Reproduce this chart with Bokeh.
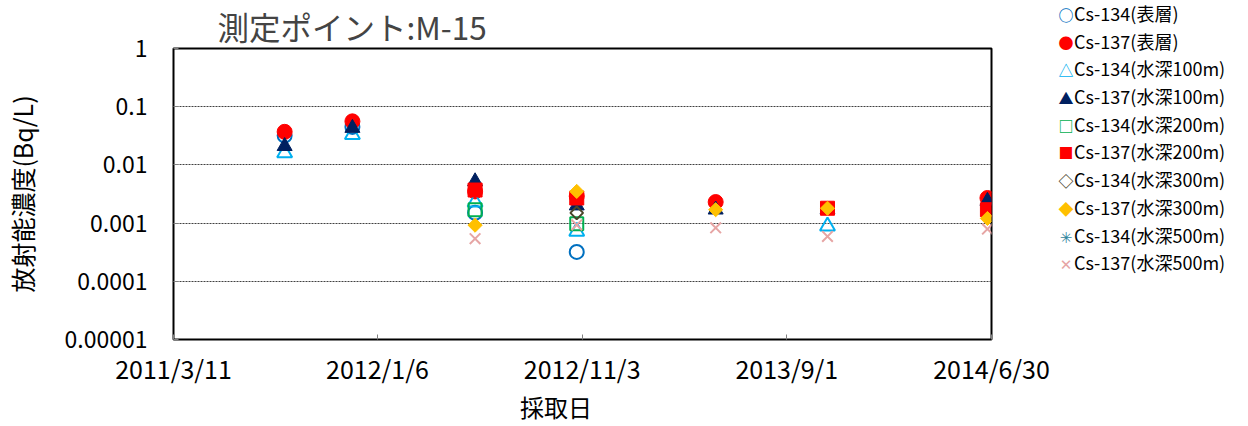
import math
import pandas as pd
from bokeh.plotting import figure
from bokeh.layouts import row, column
from bokeh.models import Range1d, FixedTicker, CustomJSTickFormatter, ColumnDataSource, Div
from bokeh.embed import file_html
from bokeh.resources import INLINE

nan = float("nan")

# sampling dates
dates = ["2011-08-22", "2011-11-30", "2012-05-29", "2012-10-26",
         "2013-05-19", "2013-10-31", "2014-06-24"]

# series values (Bq/L)
cs134_surface = [0.032, 0.045, 0.0015, 0.00032, nan, nan, nan]
cs137_surface = [0.037, 0.056, 0.0035, 0.0029, 0.0023, nan, 0.0027]
cs134_100m = [0.016, 0.033, 0.0023, 0.00072, nan, 0.00089, nan]
cs137_100m = [0.021, 0.043, 0.0052, 0.0020, 0.0017, 0.0017, 0.0024]
cs134_200m = [nan, nan, 0.0017, 0.00097, nan, nan, nan]
cs137_200m = [nan, nan, 0.0037, 0.0027, nan, 0.0018, 0.0017]
cs134_300m = [nan, nan, nan, 0.0015, nan, nan, nan]
cs137_300m = [nan, nan, 0.00092, 0.0035, 0.0017, 0.0018, 0.0012]
cs134_500m = [nan, nan, nan, nan, nan, nan, nan]
cs137_500m = [nan, nan, 0.00054, 0.00093, 0.00083, 0.00059, 0.00079]

x_ticks = ["2011-03-11", "2012-01-06", "2012-11-03", "2013-09-01", "2014-06-30"]
y_ticks = [0.00001, 0.0001, 0.001, 0.01, 0.1, 1]

title = "測定ポイント:M-15"
y_title = "放射能濃度(Bq/L)"
x_title = "採取日"

FONT = "Noto Sans CJK JP"

def ms(s):
    return pd.Timestamp(s).value / 1e6

x = [pd.Timestamp(d) for d in dates]

p = figure(width=1066, height=409, x_axis_type="datetime", y_axis_type="log",
           x_range=Range1d(ms(x_ticks[0]), ms(x_ticks[-1])),
           y_range=Range1d(y_ticks[0], y_ticks[-1]),
           output_backend="svg", toolbar_location=None,
           min_border_left=169, min_border_right=75, min_border_top=38, min_border_bottom=70)

p.title.text = title
p.title.text_font = FONT
p.title.text_font_size = "31.5px"
p.title.text_font_style = "normal"
p.title.offset = 44
p.title.standoff = 0

p.outline_line_color = "black"
p.outline_line_width = 2
p.background_fill_color = "white"
p.border_fill_color = "white"

p.xgrid.grid_line_color = None
p.ygrid.grid_line_color = "#404040"
p.ygrid.grid_line_dash = "2 1"
p.ygrid.grid_line_width = 1
p.ygrid.ticker = FixedTicker(ticks=y_ticks[1:-1])

p.xaxis.ticker = FixedTicker(ticks=[ms(t) for t in x_ticks])
p.xaxis.formatter = CustomJSTickFormatter(code="""
const d = new Date(tick);
return d.getUTCFullYear() + '/' + (d.getUTCMonth()+1) + '/' + d.getUTCDate();
""")
p.yaxis.ticker = FixedTicker(ticks=y_ticks)
p.yaxis.formatter = CustomJSTickFormatter(code="""
const n = Math.max(0, -Math.round(Math.log10(tick)));
return tick.toFixed(n);
""")

for ax in (p.xaxis[0], p.yaxis[0]):
    ax.axis_line_color = None
    ax.major_tick_in = 5
    ax.major_tick_out = 0
    ax.major_tick_line_color = "#808080"
    ax.minor_tick_line_color = None
    ax.major_label_text_font = FONT
    ax.major_label_text_color = "black"
    ax.axis_label_text_font = FONT
    ax.axis_label_text_font_style = "normal"
    ax.axis_label_text_color = "black"

p.xaxis.major_label_text_font_size = "25px"
p.xaxis.major_label_standoff = 10

p.yaxis.major_label_text_font_size = "23px"
p.yaxis.axis_label = y_title
p.yaxis.axis_label_text_font_size = "25px"
p.yaxis.major_label_standoff = 26
p.yaxis.axis_label_standoff = 22

src = ColumnDataSource(dict(
    x=x,
    s134=cs134_surface, s137=cs137_surface,
    a134=cs134_100m, a137=cs137_100m,
    b134=cs134_200m, b137=cs137_200m,
    c134=cs134_300m, c137=cs137_300m,
    d134=cs134_500m, d137=cs137_500m,
))

# (column, legend label, legend symbol, colour, marker style)
specs = [
    ("s134", "Cs-134(表層)", "○", "#0070C0", dict(marker="circle", size=14, line_width=2, fill_color=None)),
    ("s137", "Cs-137(表層)", "●", "#FF0000", dict(marker="circle", size=15, fill_color="#FF0000")),
    ("a134", "Cs-134(水深100m)", "△", "#00B0F0", dict(marker="triangle", size=15, line_width=2, fill_color=None)),
    ("a137", "Cs-137(水深100m)", "▲", "#002060", dict(marker="triangle", size=15, fill_color="#002060")),
    ("b134", "Cs-134(水深200m)", "□", "#00B050", dict(marker="square", size=13, line_width=2, fill_color=None)),
    ("b137", "Cs-137(水深200m)", "■", "#FF0000", dict(marker="square", size=14, fill_color="#FF0000")),
    ("c134", "Cs-134(水深300m)", "◇", "#4A452A", dict(marker="square", size=9, angle=math.pi / 4, line_width=2, fill_color=None)),
    ("c137", "Cs-137(水深300m)", "◆", "#FFC000", dict(marker="square", size=10, angle=math.pi / 4, fill_color="#FFC000")),
    ("d134", "Cs-134(水深500m)", "✳", "#31859C", dict(marker="asterisk", size=13, line_width=2)),
    ("d137", "Cs-137(水深500m)", "✕", "#E6A5A4", dict(marker="x", size=15, line_width=2)),
]

for col, label, sym, color, kw in specs:
    p.scatter(x="x", y=col, source=src, line_color=color, **kw)

# legend to the right of the plot
rows_html = "".join(
    f'<div style="height:27.7px;line-height:27.7px;white-space:nowrap;">'
    f'<span style="display:inline-block;width:16px;text-align:center;color:{color};'
    f'font-size:15px;font-weight:bold;font-family:\'Noto Sans CJK JP\',\'DejaVu Sans\';">{sym}</span>'
    f'<span>{label}</span></div>'
    for col, label, sym, color, kw in specs
)
legend_div = Div(
    text=f'<div style="position:relative;top:0px;left:-8px;font-family:\'{FONT}\';font-size:18px;color:black;">{rows_html}</div>',
    width=166, height=409, margin=0,
)

# x-axis title below the plot
title_div = Div(
    text=f'<div style="position:relative;left:520px;top:-12px;height:20px;line-height:20px;font-family:\'{FONT}\';'
         f'font-size:24px;color:black;white-space:nowrap;">{x_title}</div>',
    width=1232, height=1, margin=0,
)

layout = column(row(p, legend_div, spacing=0), title_div, spacing=0)
open("out.html", "w").write(file_html(layout, INLINE))
